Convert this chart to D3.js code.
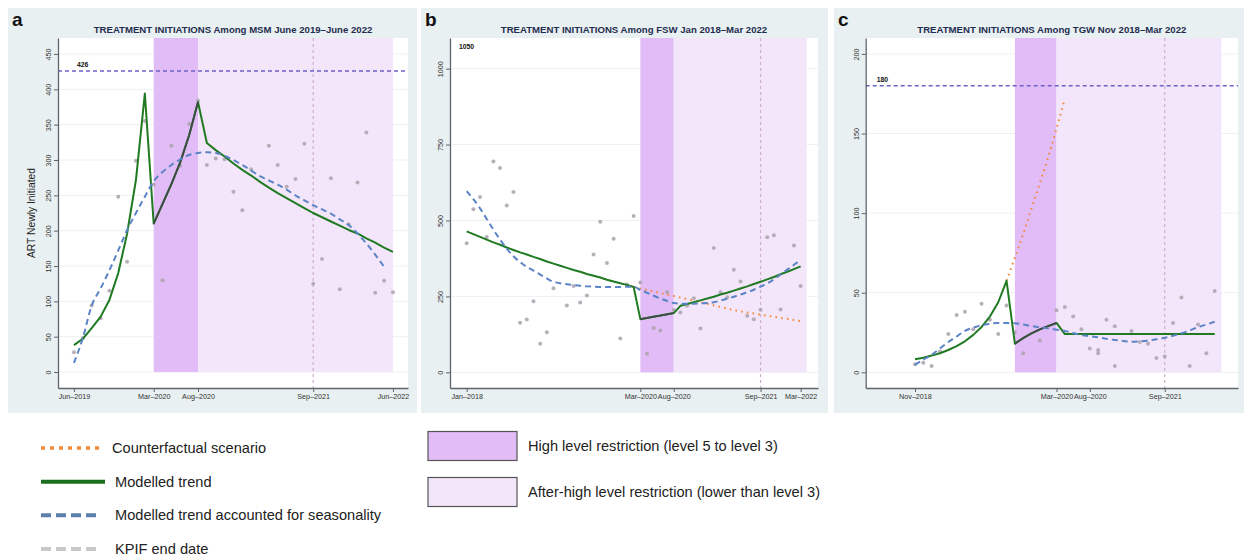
<!DOCTYPE html>
<html>
<head>
<meta charset="utf-8">
<script src="https://cdn.jsdelivr.net/npm/d3@7"></script>
<style>
  body { margin: 0; background: #fff; }
  svg { font-family: "Liberation Sans", Arial, sans-serif; }
</style>
</head>
<body>
<svg id="chart" width="1250" height="557"></svg>
<script>
// ---- Panel a: MSM, monthly index from Jun-2019 ----
const msmObserved = [28, 48, 94, 76, 115, 248, 156, 299, 355, 265, 130, 320, 292, 351, 384, 293, 302, 301,
  255, 229, 287, null, 320, 293, 262, 273, 323, 125, 160, 274, 117, 209, 268, 339, 112, 129, 113];
const msmTrend = [38, 47, 62, 78, 102, 140, 196, 272, 394, 210, 238, 266, 297, 335, 382, 324, 314, 305,
  295, 286, 278, 269, 261, 253, 246, 239, 232, 225, 219, 213, 207, 201, 196, 189, 183, 176, 170];
const msmSeasonal = [13, 48, 94, 118, 144, 172, 201, 225, 248, 270, 283, 293, 301, 307, 310, 311, 310, 306,
  300, 293, 285, 277, 271, 265, 258, 250, 243, 236, 230, 224, 216, 208, 196, 182, 166, 149];
const msmXTicks = [0, 9, 14, 27, 36];
const msmXLabels = ["Jun\u20132019", "Mar\u20132020", "Aug\u20132020", "Sep\u20132021", "Jun\u20132022"];
const msmYTicks = [0, 50, 100, 150, 200, 250, 300, 350, 400, 450];
const msmHigh = [9, 14], msmAfter = [14, 36], msmKpif = 27, msmRef = 426;

// ---- Panel b: FSW, monthly index from Jan-2018 ----
const fswObserved = [425, 537, 577, 446, 694, 673, 549, 594, 163, 174, 234, 94, 132, 277, null, 220, 284,
  230, 253, 388, 496, 360, 440, 111, 289, 515, 296, 61, 146, 138, 264, 205, 197, 219, 244, 144, null,
  409, 264, 247, 338, 299, 186, 175, 206, 445, 451, 207, null, 418, 284];
const fswTrend = [464, 455, 446, 437, 428, 420, 411, 403, 395, 388, 380, 373, 365, 358, 351, 344, 337,
  331, 324, 318, 312, 305, 299, 293, 288, 281, 175, 179, 183, 187, 191, 195, 219, 225, 231, 237, 243,
  249, 256, 262, 269, 276, 283, 291, 298, 306, 314, 323, 331, 340, 349];
const fswSeasonal = [597, 570, 540, 505, 470, 437, 407, 382, 363, 347, 335, 322, 309, 298, 293, 290, 287,
  285, 283, 282, 281, 281, 281, 281, 282, 282, 271, 262, 252, 243, 235, 228, 226, 226, 226, 227, 228,
  231, 236, 242, 249, 256, 264, 272, 282, 293, 306, 322, 338, 354, 370];
const fswCounterStart = 25;
const fswCounter = [281, 276, 271, 266, 261, 256, 251, 246, 241, 236, 231, 226, 220, 215, 210, 205, 201,
  197, 194, 190, 186, 183, 179, 176, 172, 169];
const fswXTicks = [0, 26, 31, 44, 50];
const fswXLabels = ["Jan\u20132018", "Mar\u20132020", "Aug\u20132020", "Sep\u20132021", "Mar\u20132022"];
const fswYTicks = [0, 250, 500, 750, 1000];
const fswHigh = [26, 31], fswAfter = [31, 50.9], fswKpif = 44, fswRef = 1050;

// ---- Panel c: TGW, index of monthly points (axis labels as printed) ----
const tgwDotIdx = [0, 1, 2, 3, 4, 5, 6, 7, 8, 9, 10, 11, 12, 13, 15, 17, 18, 19, 20, 21, 22, 22, 23, 24,
  24, 26, 27, 28, 29, 30, 31, 32, 33, 34, 35, 36];
const tgwDotVal = [5, 6, 4, 13, 24, 36, 38, 27, 43, 33, 24, 42, 25, 12, 20, 39, 41, 35, 27, 15, 14, 12, 33,
  29, 4, 26, 19, 18, 9, 10, 31, 47, 4, 30, 12, 51];
const tgwTrend = [8.2, 9.2, 10.5, 12, 14, 16.5, 19.5, 23.5, 28.5, 35, 44, 57.5, 18, 21.5, 24.5, 27, 29, 31,
  24, 24, 24, 24, 24, 24, 24, 24, 24, 24, 24, 24, 24, 24, 24, 24, 24, 24, 24];
const tgwSeasonal = [4.6, 8, 11, 15, 19, 22.5, 26, 28, 29.7, 30.5, 31, 31, 30.8, 30, 29, 28.3, 27.6, 26.8,
  26, 24.7, 23.4, 22.7, 22, 21, 20.3, 19.7, 19.2, 19.4, 19.9, 20.7, 21.7, 23, 24.5, 26.3, 28.3, 30, 31.8];
const tgwCounterStart = 11;
const tgwCounter = [57.5, 72, 87, 103, 119, 135, 153, 172];
const tgwXTicks = [0, 17, 21, 30];
const tgwXLabels = ["Nov\u20132018", "Mar\u20132020", "Aug\u20132020", "Sep\u20132021"];
const tgwYTicks = [0, 50, 100, 150, 200];
const tgwHigh = [12, 17], tgwAfter = [17, 36.8], tgwKpif = 30, tgwRef = 180;

// ---- legend ----
const lineLegend = ["Counterfactual scenario", "Modelled trend", "Modelled trend accounted for seasonality", "KPIF end date"];
const boxLegend = ["High level restriction (level 5 to level 3)", "After-high level restriction (lower than level 3)"];

const C = {
  panelBg: "#e9f0f2", grid: "#edf0f3", high: "#e1bcf6", after: "#f4e6fa",
  green: "#1f7a22", greenDark: "#3f4a47", blue: "#5b84c6", orange: "#f28a3a",
  dot: "#aaa2ab", kpif: "#cdb0cd", ref: "#6d62c6", axis: "#5f6468", title: "#1f2d50"
};

const svg = d3.select("#chart");

const panels = [
  {
    letter: "a", title: "TREATMENT INITIATIONS Among MSM June 2019\u2013June 2022",
    box: [8, 8, 409, 405], plot: [58, 408, 38, 388], xDomain: [-1.8, 37.7], yDomain: [-22.6, 472.6],
    obs: msmObserved.map((v, i) => [i, v]), trend: msmTrend, seasonal: msmSeasonal,
    counter: null, counterStart: 0,
    xTicks: msmXTicks, xLabels: msmXLabels, yTicks: msmYTicks,
    high: msmHigh, after: msmAfter, kpif: msmKpif, ref: msmRef, refLine: true, refDx: 19,
    yTitle: "ART Newly Initiated"
  },
  {
    letter: "b", title: "TREATMENT INITIATIONS Among FSW Jan 2018\u2013Mar 2022",
    box: [421, 8, 407, 405], plot: [450, 818, 38, 388], xDomain: [-2.5, 52.6], yDomain: [-51.7, 1101],
    obs: fswObserved.map((v, i) => [i, v]), trend: fswTrend, seasonal: fswSeasonal,
    counter: fswCounter, counterStart: fswCounterStart,
    xTicks: fswXTicks, xLabels: fswXLabels, yTicks: fswYTicks,
    high: fswHigh, after: fswAfter, kpif: fswKpif, ref: fswRef, refLine: false, refDx: 9
  },
  {
    letter: "c", title: "TREATMENT INITIATIONS Among TGW Nov 2018\u2013Mar 2022",
    box: [834, 8, 410, 405], plot: [865.7, 1238, 38, 388], xDomain: [-5.92, 38.8], yDomain: [-9.86, 210],
    obs: tgwDotIdx.map((d, i) => [d, tgwDotVal[i]]), trend: tgwTrend, seasonal: tgwSeasonal,
    counter: tgwCounter, counterStart: tgwCounterStart,
    xTicks: tgwXTicks, xLabels: tgwXLabels, yTicks: tgwYTicks,
    high: tgwHigh, after: tgwAfter, kpif: tgwKpif, ref: tgwRef, refLine: true, refDx: 11
  }
];

panels.forEach((p, k) => drawPanel(p, k));

function drawPanel(p, k) {
  const [x0, x1, y0, y1] = p.plot;
  const g = svg.append("g");
  const x = d3.scaleLinear().domain(p.xDomain).range([x0, x1]);
  const y = d3.scaleLinear().domain(p.yDomain).range([y1, y0]);

  g.append("rect").attr("x", p.box[0]).attr("y", p.box[1])
    .attr("width", p.box[2]).attr("height", p.box[3]).attr("fill", C.panelBg);
  g.append("rect").attr("x", x0).attr("y", y0)
    .attr("width", x1 - x0).attr("height", y1 - y0).attr("fill", "#fff");

  const clipId = "clip" + k;
  svg.append("clipPath").attr("id", clipId).append("rect")
    .attr("x", x0).attr("y", y0).attr("width", x1 - x0).attr("height", y1 - y0);

  g.selectAll(".grid").data(p.yTicks).join("line")
    .attr("x1", x0).attr("x2", x1)
    .attr("y1", (d) => y(d)).attr("y2", (d) => y(d))
    .attr("stroke", C.grid).attr("stroke-width", 1);

  // restriction periods
  g.append("rect").attr("x", x(p.high[0])).attr("y", y0)
    .attr("width", x(p.high[1]) - x(p.high[0])).attr("height", y(0) - y0).attr("fill", C.high);
  g.append("rect").attr("x", x(p.after[0])).attr("y", y0)
    .attr("width", x(p.after[1]) - x(p.after[0])).attr("height", y(0) - y0).attr("fill", C.after);

  // KPIF end date
  g.append("line").attr("x1", x(p.kpif)).attr("x2", x(p.kpif)).attr("y1", y0).attr("y2", y1)
    .attr("stroke", C.kpif).attr("stroke-width", 1.2).attr("stroke-dasharray", "3,3");

  // reference level
  if (p.refLine) {
    g.append("line").attr("x1", x0).attr("x2", x1).attr("y1", y(p.ref)).attr("y2", y(p.ref))
      .attr("stroke", C.ref).attr("stroke-width", 1.4).attr("stroke-dasharray", "4,3");
  }
  g.append("text").attr("x", x0 + p.refDx).attr("y", y(p.ref) - 4)
    .attr("font-size", 6.8).attr("font-weight", "bold").attr("fill", "#111").text(p.ref);

  const inner = g.append("g").attr("clip-path", `url(#${clipId})`);

  inner.selectAll(".obs").data(p.obs.filter((d) => d[1] !== null)).join("circle")
    .attr("cx", (d) => x(d[0])).attr("cy", (d) => y(d[1])).attr("r", 2)
    .attr("fill", C.dot).attr("opacity", 0.85);

  const line = d3.line().x((d) => x(d[0])).y((d) => y(d[1]));
  const smooth = d3.line().x((d) => x(d[0])).y((d) => y(d[1])).curve(d3.curveMonotoneX);

  if (p.counter) {
    inner.append("path").datum(p.counter.map((v, i) => [p.counterStart + i, v]))
      .attr("d", smooth).attr("fill", "none").attr("stroke", C.orange)
      .attr("stroke-width", 2).attr("stroke-dasharray", "1.6,4.2");
  }

  const trendPts = p.trend.map((v, i) => [i, v]);
  inner.append("path").datum(trendPts).attr("d", line)
    .attr("fill", "none").attr("stroke", C.green).attr("stroke-width", 2)
    .attr("stroke-linejoin", "round");
  inner.append("path").datum(trendPts.filter((d) => d[0] >= p.high[0] && d[0] <= p.high[1]))
    .attr("d", line).attr("fill", "none").attr("stroke", C.greenDark).attr("stroke-width", 1.8);

  inner.append("path").datum(p.seasonal.map((v, i) => [i, v])).attr("d", smooth)
    .attr("fill", "none").attr("stroke", C.blue).attr("stroke-width", 2)
    .attr("stroke-dasharray", "6,4");

  // axes
  const yAxis = g.append("g").attr("transform", `translate(${x0},0)`)
    .call(d3.axisLeft(y).tickValues(p.yTicks).tickFormat(d3.format("d"))
      .tickSize(4).tickSizeOuter(0));
  yAxis.selectAll("text").attr("x", 0).attr("dy", 0).attr("text-anchor", "middle")
    .attr("transform", "translate(-7,0) rotate(-90)");

  const xAxis = g.append("g").attr("transform", `translate(0,${y1})`)
    .call(d3.axisBottom(x).tickValues(p.xTicks).tickFormat((d, i) => p.xLabels[i])
      .tickSize(4).tickSizeOuter(0).tickPadding(2));

  [yAxis, xAxis].forEach((a) => {
    a.select(".domain").attr("stroke", C.axis).attr("stroke-width", 1.3);
    a.selectAll(".tick line").attr("stroke", C.axis);
    a.selectAll("text").attr("font-size", 7.2).attr("fill", "#333")
      .attr("font-family", "'Liberation Sans', Arial, sans-serif");
  });

  g.append("text").attr("x", (x0 + x1) / 2).attr("y", 32.5)
    .attr("text-anchor", "middle").attr("font-size", 9.6).attr("font-weight", "bold")
    .attr("fill", C.title).text(p.title);

  g.append("text").attr("x", p.box[0] + 4).attr("y", 26)
    .attr("font-size", 19).attr("font-weight", "bold").attr("fill", "#111").text(p.letter);

  if (p.yTitle) {
    g.append("text").attr("transform", `translate(35,213) rotate(-90)`)
      .attr("text-anchor", "middle").attr("font-size", 10.3).attr("fill", "#222").text(p.yTitle);
  }
}

// legend
const lg = svg.append("g").attr("class", "legend");
const legendStyles = [
  { stroke: C.orange, width: 3.5, dash: "4,5" },
  { stroke: "#1b6e1b", width: 4, dash: null },
  { stroke: "#5a80ab", width: 4, dash: "10,5" },
  { stroke: "#c8c8c8", width: 4, dash: "10,5" }
];
const legY = d3.scalePoint().domain(lineLegend).range([448, 549]);
lineLegend.forEach((name, i) => {
  const s = legendStyles[i];
  lg.append("line").attr("x1", 41).attr("x2", i === 1 ? 105 : 101)
    .attr("y1", legY(name)).attr("y2", legY(name))
    .attr("stroke", s.stroke).attr("stroke-width", s.width)
    .attr("stroke-dasharray", s.dash);
  lg.append("text").attr("x", i === 0 ? 112 : 115).attr("y", legY(name) + 5)
    .attr("font-size", 14.6).attr("fill", "#222").text(name);
});
const boxY = d3.scalePoint().domain(boxLegend).range([446, 492]);
boxLegend.forEach((name, i) => {
  lg.append("rect").attr("x", 428).attr("y", boxY(name) - 14.5).attr("width", 89).attr("height", 29)
    .attr("fill", i === 0 ? C.high : C.after).attr("stroke", "#555").attr("stroke-width", 1.2);
  lg.append("text").attr("x", 528).attr("y", boxY(name) + 5)
    .attr("font-size", 14.6).attr("fill", "#222").text(name);
});
</script>
</body>
</html>
